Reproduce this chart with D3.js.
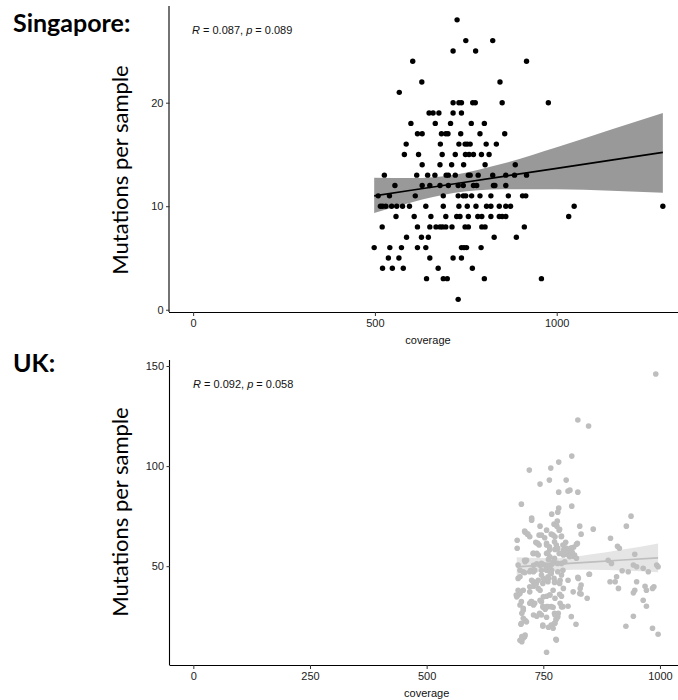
<!DOCTYPE html>
<html lang="en">
<head>
    <meta charset="UTF-8">
    <title>Mutations per sample vs coverage</title>
    <script src="https://d3js.org/d3.v7.min.js"></script>
    <style>
        body {
            margin: 0;
            background: #fff;
        }
        svg {
            display: block;
        }
        .tick text {
            font-family: "Liberation Sans", Arial, sans-serif;
            font-size: 11px;
            fill: #222;
        }
        .panel-title {
            font-family: Lato, "Open Sans", sans-serif;
            font-weight: bold;
            font-size: 25px;
        }
        .y-title {
            font-family: Lato, "Open Sans", sans-serif;
            font-size: 22px;
        }
        .x-title, .stat {
            font-family: "Liberation Sans", Arial, sans-serif;
            font-size: 11px;
            fill: #111;
        }
    </style>
</head>
<body>
    <svg width="678" height="700"></svg>
    <script>
        // Singapore: [coverage, mutations per sample]
        const sgPoints = [
            [726,28],[750,26],[824,26],[715,25],[777,25],[604,24],[917,24],[629,22],[844,22],[567,21],
            [715,20],[731,20],[738,20],[769,20],[776,20],[850,20],[977,20],
            [649,19],[660,19],[676,19],[715,19],[738,19],
            [599,18],[666,18],[708,18],[765,18],[801,18],
            [617,17],[630,17],[683,17],[695,17],[701,17],[736,17],[789,17],[857,17],
            [586,16],[680,16],[731,16],[748,16],[754,16],[762,16],[806,16],[834,16],
            [581,15],[620,15],[685,15],[721,15],[749,15],[759,15],[771,15],[793,15],[814,15],
            [630,14],[679,14],[711,14],[744,14],[803,14],[886,14],
            [526,13],[615,13],[645,13],[665,13],[696,13],[702,13],[721,13],[757,13],[762,13],[784,13],[824,13],[860,13],[884,13],[917,13],
            [555,12],[630,12],[651,12],[679,12],[702,12],[729,12],[743,12],[771,12],[780,12],[826,12],[830,12],[860,12],
            [509,11],[540,11],[611,11],[688,11],[729,11],[743,11],[750,11],[766,11],[789,11],[819,11],[867,11],[906,11],[915,11],
            [515,10],[521,10],[530,10],[546,10],[560,10],[576,10],[595,10],[640,10],[688,10],[731,10],[754,10],[778,10],[807,10],[819,10],[842,10],[860,10],[873,10],[1048,10],[1292,10],
            [558,9],[608,9],[654,9],[695,9],[725,9],[734,9],[757,9],[783,9],[794,9],[819,9],[842,9],[850,9],[860,9],[1033,9],
            [520,8],[617,8],[651,8],[668,8],[679,8],[686,8],[695,8],[712,8],[748,8],[757,8],[794,8],[803,8],[911,8],
            [587,7],[628,7],[647,7],[828,7],[889,7],
            [498,6],[541,6],[573,6],[617,6],[640,6],[738,6],[745,6],[752,6],[792,6],
            [537,5],[566,5],[651,5],[715,5],[738,5],
            [521,4],[548,4],[578,4],[674,4],[768,4],
            [642,3],[688,3],[699,3],[801,3],[958,3],
            [729,1]
        ];
        // Singapore linear fit with 95% band
        const sgFitX   = [498, 600, 720, 850, 1000, 1150, 1292];
        const sgFit    = [11.0, 11.54, 12.17, 12.86, 13.66, 14.45, 15.2];
        const sgLower  = [9.35, 10.36, 11.29, 11.63, 11.63, 11.5, 11.3];
        const sgUpper  = [12.75, 12.72, 13.05, 14.09, 15.69, 17.4, 19.0];

        // UK: [coverage, mutations per sample]
        const ukPoints = [
            [991,146],[824,123],[847,120],[811,105],[783,102],[766,99],[720,98],[763,93],[799,93],[743,91],
            [783,87],[803,87.5],[807,88],[824,87],[703,81],[811,80],[783,79],[781,77],[768,76],[725,74],[938,75],
            [725,73],[928,70],[828,70],[857,68.5],[743,70],[773,71],[779,70],[711,67],[716,66],[757,68],[784,68],
            [831,66],[741,65.5],[771,65.5],[775,64.7],[789,65],[894,64],[694,63],[734,62],[738,61.4],[757,61.4],
            [798,62],[823,61.4],[694,59],[763,59.7],[764,58.4],[775,58.4],[793,58],[800,59],[808,58],[812,57],
            [815,59.5],[909,60],[913,59],[729,56.4],[736,56.4],[757,56.4],[784,56.4],[793,55.6],[800,56],[808,55.5],
            [815,55],[946,56],[714,53],[711,52.2],[761,53.4],[771,52.2],[775,51.7],[789,51.4],[796,52.2],[889,53],
            [896,51.4],[943,50.6],[950,49.7],[993,50.6],[696,50.6],[729,50.5],[736,51.2],[743,50.5],[750,50.8],[764,50.6],
            [700,48],[707,47.2],[723,48],[729,47.2],[746,48],[757,49],[768,48],[764,50],[964,49],[975,47.2],
            [919,47.7],[932,47.2],[996,49.7],[848,46],[696,43.9],[700,44.7],[725,43],[729,42.2],[739,43],[750,43.9],
            [757,43],[761,43.9],[773,43.9],[775,42.2],[786,43],[803,43],[825,43.9],[893,42.2],[904,42.2],[907,44.7],
            [950,42.2],[721,39.7],[729,40],[739,38.9],[743,38],[771,38],[793,38.9],[829,38.9],[911,38.9],[946,38],
            [943,36.7],[968,40],[971,38],[987,39.7],[984,38.9],[696,38],[700,36.4],[693,34.7],[696,35.6],[721,37.2],
            [750,34.7],[757,35],[764,35.6],[775,34],[789,35],[814,37.2],[831,36.1],[844,34],[964,33],[725,32.3],
            [729,30.6],[721,31.5],[743,33],[700,30.6],[707,29],[750,29.5],[754,28.5],[757,29.8],[771,29.5],[786,31.5],
            [789,29.7],[803,30],[971,30],[704,26.5],[729,25.6],[736,25],[743,26],[746,25.6],[757,24.5],[775,25.6],
            [779,24],[782,26.5],[777,23.3],[943,25],[707,24],[711,23],[702,21],[749,20],[761,19.5],[768,20.5],
            [775,21.5],[820,21],[927,20],[984,19],[996,16],[704,14.8],[711,15.6],[700,13],[704,12.3],[777,13.5],
            [757,7],
            [780,72.5],[785,68.4],[710,67.5],[717,66],[721,64.7],[746,65.5],[753,64.2],[767,66],[788.6,64.7],[735,61.7],
            [741,60.6],[757,60.6],[774,62.2],[778,60.6],[781,58.9],[792,60.6],[796,59.2],[803,58],[810,59.2],[821,61],
            [799,56.4],[806.5,54.7],[817,55.6],[821,54],[728,56.4],[739,55.6],[760,56.7],[764,54.7],[774,53.9],[710,53],
            [746,51.4],[757,50.6],[767,50.6],[781,51.4],[721,47.2],[731.5,48],[757,48],[764,47.2],[792,48],[710,46.7],
            [746,45.6],[760,44.7],[767,46.4],[781,47.2],[789,45.6],[824,44.4],[849,46],[728,42.2],[735,41.4],[749,41.4],
            [760,42.2],[774,41.9],[785,41.4],[831,40.6],[700,37.2],[707,38],[692,35.6],[764,35.6],[785,36],[828,36.4],
            [724,32.3],[731.5,31.5],[746,32.3],[749,29.8],[760,29.8],[767,29.8],[792,29.8],[703,32.3],[707,28],[742,26.5],
            [774,26.5],[781,24.8],[810,24.8],[714,22.2],[703,21.5],[749,20.6],[767,20.6],[771,19],[774,21.5],[710,14.8],
            [707,14],[778,13.1]
        ];
        const ukFitX  = [693, 780, 850, 920, 996];
        const ukFit   = [49.7, 51.0, 52.0, 53.1, 54.2];
        const ukLower = [44.9, 48.0, 48.2, 47.9, 47.0];
        const ukUpper = [54.5, 54.0, 55.8, 58.3, 61.4];

        const sgYTicks = [0, 10, 20];
        const sgXTicks = [0, 500, 1000];
        const ukYTicks = [50, 100, 150];
        const ukXTicks = [0, 250, 500, 750, 1000];

        const svg = d3.select("svg");

        function drawPanel(cfg) {
            const g = svg.append("g");
            const x = d3.scaleLinear().domain(cfg.xDomain).range(cfg.xRange);
            const y = d3.scaleLinear().domain(cfg.yDomain).range(cfg.yRange);

            // points first, ribbon goes over them (like ggplot layers)
            g.append("g").selectAll("circle")
                .data(cfg.points)
                .enter()
                .append("circle")
                .attr("cx", d => x(d[0]))
                .attr("cy", d => y(d[1]))
                .attr("r", cfg.r)
                .attr("fill", cfg.color);

            const band = cfg.fitX.map((v, i) => ({ x: v, fit: cfg.fit[i], lo: cfg.lower[i], hi: cfg.upper[i] }));
            g.append("path")
                .datum(band)
                .attr("fill", cfg.color)
                .attr("fill-opacity", 0.4)
                .attr("d", d3.area()
                    .curve(d3.curveMonotoneX)
                    .x(d => x(d.x))
                    .y0(d => y(d.lo))
                    .y1(d => y(d.hi)));
            g.append("path")
                .datum(band)
                .attr("fill", "none")
                .attr("stroke", cfg.color)
                .attr("stroke-width", 1.7)
                .attr("d", d3.line()
                    .x(d => x(d.x))
                    .y(d => y(d.fit)));

            // axes
            const yAxis = g.append("g")
                .attr("transform", `translate(${cfg.xRange[0]},0)`)
                .call(d3.axisLeft(y).tickValues(cfg.yTicks).tickFormat(d3.format("d")).tickSize(3.5).tickPadding(2.5));
            const xAxis = g.append("g")
                .attr("transform", `translate(0,${cfg.yRange[0]})`)
                .call(d3.axisBottom(x).tickValues(cfg.xTicks).tickFormat(d3.format("d")).tickSize(4).tickPadding(3));
            [yAxis, xAxis].forEach(a => {
                a.select(".domain").attr("stroke", "#000").attr("stroke-width", 1.1);
                a.selectAll(".tick line").attr("stroke", "#333");
            });
            yAxis.select(".domain").attr("d", `M-0.5,${cfg.yRange[0]}V${cfg.yRange[1]}`);
            xAxis.select(".domain").attr("d", `M${cfg.xRange[0] - 0.5},0.5H${cfg.xRange[1]}`);

            svg.append("text")
                .attr("class", "x-title")
                .attr("x", (cfg.xRange[0] + cfg.xRange[1]) / 2)
                .attr("y", cfg.yRange[0] + 32)
                .attr("text-anchor", "middle")
                .text("coverage");

            svg.append("text")
                .attr("class", "y-title")
                .attr("transform", `translate(128,${cfg.yTitleMid}) rotate(-90)`)
                .attr("text-anchor", "middle")
                .text("Mutations per sample");

            svg.append("text")
                .attr("class", "panel-title")
                .attr("x", 13)
                .attr("y", cfg.titleY)
                .text(cfg.title);

            const stat = svg.append("text")
                .attr("class", "stat")
                .attr("x", cfg.statX)
                .attr("y", cfg.statY);
            stat.append("tspan").attr("font-style", "italic").text("R");
            stat.append("tspan").text(` = ${cfg.r2}, `);
            stat.append("tspan").attr("font-style", "italic").text("p");
            stat.append("tspan").text(` = ${cfg.p}`);
        }

        drawPanel({
            title: "Singapore:", titleY: 32,
            points: sgPoints, color: "#000", r: 2.7,
            fitX: sgFitX, fit: sgFit, lower: sgLower, upper: sgUpper,
            xDomain: [-65, 1357], xRange: [169.5, 686.5],
            yDomain: [-0.22, 29.35], yRange: [312, 5.9],
            xTicks: sgXTicks, yTicks: sgYTicks,
            yTitleMid: 170, statX: 192, statY: 34, r2: "0.087", p: "0.089"
        });

        drawPanel({
            title: "UK:", titleY: 372,
            points: ukPoints, color: "#bebebe", r: 2.8,
            fitX: ukFitX, fit: ukFit, lower: ukLower, upper: ukUpper,
            xDomain: [-50, 1050], xRange: [170, 683.3],
            yDomain: [0.65, 153], yRange: [665, 360],
            xTicks: ukXTicks, yTicks: ukYTicks,
            yTitleMid: 512, statX: 193, statY: 388, r2: "0.092", p: "0.058"
        });
    </script>
</body>
</html>
